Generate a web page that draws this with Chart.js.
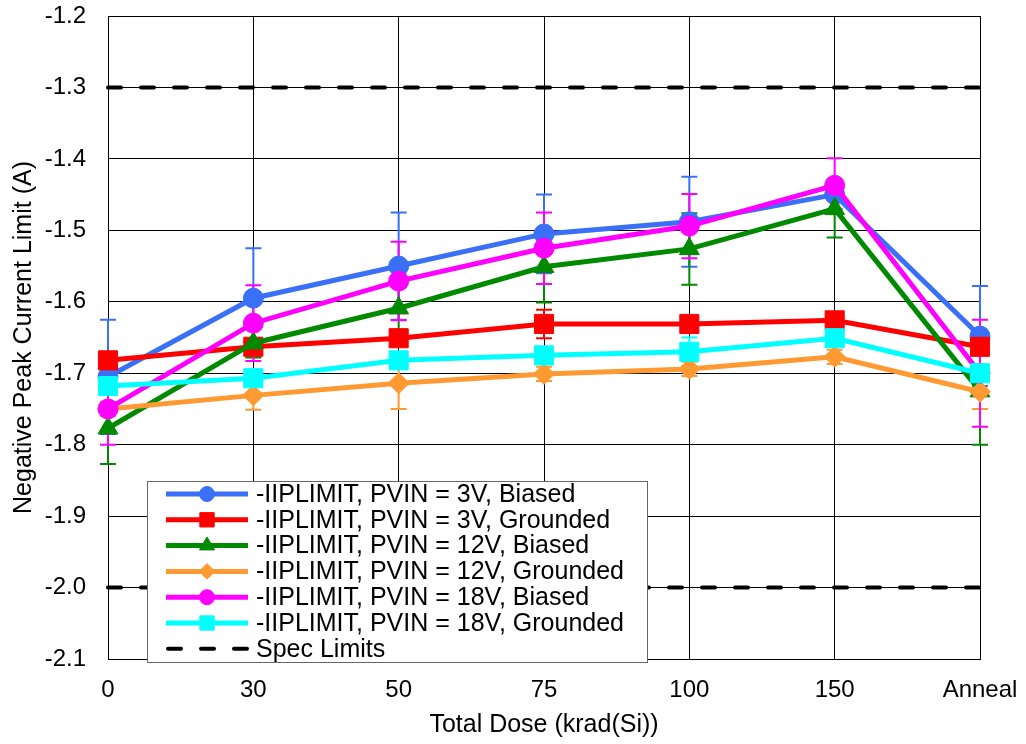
<!DOCTYPE html>
<html>
<head>
<meta charset="utf-8">
<script src="https://cdn.jsdelivr.net/npm/chart.js@4/dist/chart.umd.min.js"></script>
<style>
  html, body { margin: 0; padding: 0; background: #fff; }
  #wrap { width: 1026px; height: 744px; }
</style>
</head>
<body>
<div id="wrap"><canvas id="c" width="1026" height="744"></canvas></div>
<script>
// ---- data ----
const categories = ['0', '30', '50', '75', '100', '150', 'Anneal'];
const yTicks = [-2.1, -2.0, -1.9, -1.8, -1.7, -1.6, -1.5, -1.4, -1.3, -1.2];

const pvin3Biased     = [-1.705, -1.595, -1.550, -1.505, -1.488, -1.450, -1.648];
const pvin3Grounded   = [-1.682, -1.663, -1.651, -1.631, -1.631, -1.626, -1.663];
const pvin12Biased    = [-1.777, -1.658, -1.609, -1.551, -1.526, -1.470, -1.725];
const pvin12Grounded  = [-1.750, -1.731, -1.714, -1.701, -1.694, -1.677, -1.726];
const pvin18Biased    = [-1.750, -1.630, -1.571, -1.525, -1.494, -1.437, -1.700];
const pvin18Grounded  = [-1.718, -1.707, -1.682, -1.675, -1.670, -1.651, -1.700];

const err3Biased      = [0.080, 0.070, 0.075, 0.055, 0.063, 0.020, 0.070];
const err3Grounded    = [0.010, 0.010, 0.010, 0.020, 0.010, 0.010, 0.010];
const err12Biased     = [0.050, 0.020, 0.030, 0.050, 0.050, 0.040, 0.075];
const err12Grounded   = [0.010, 0.020, 0.036, 0.010, 0.010, 0.010, 0.024];
const err18Biased     = [0.050, 0.053, 0.055, 0.050, 0.045, 0.038, 0.075];
const err18Grounded   = [0.010, 0.010, 0.010, 0.010, 0.020, 0.010, 0.010];

const specUpper = [-1.3, -1.3, -1.3, -1.3, -1.3, -1.3, -1.3];
const specLower = [-2.0, -2.0, -2.0, -2.0, -2.0, -2.0, -2.0];

const FONT = "'Liberation Sans', Arial, sans-serif";

function series(label, data, err, color, style, radius, order) {
  return {
    label, data, err,
    borderColor: color, backgroundColor: color,
    pointBackgroundColor: color, pointBorderColor: color,
    borderWidth: 5, pointStyle: style, pointRadius: radius, pointBorderWidth: 1,
    tension: 0, order, inLegend: true
  };
}

const datasets = [
  series('-IIPLIMIT, PVIN = 3V, Biased',     pvin3Biased,    err3Biased,    '#3A6FF7', 'circle',   10,   6),
  series('-IIPLIMIT, PVIN = 3V, Grounded',   pvin3Grounded,  err3Grounded,  '#FF0000', 'rect',     13.5, 5),
  series('-IIPLIMIT, PVIN = 12V, Biased',    pvin12Biased,   err12Biased,   '#008A00', 'triangle', 11.5, 4),
  series('-IIPLIMIT, PVIN = 12V, Grounded',  pvin12Grounded, err12Grounded, '#FF9A33', 'rectRot',  10.5, 3),
  series('-IIPLIMIT, PVIN = 18V, Biased',    pvin18Biased,   err18Biased,   '#FF00FF', 'circle',   10,   2),
  series('-IIPLIMIT, PVIN = 18V, Grounded',  pvin18Grounded, err18Grounded, '#00FFFF', 'rect',     13.5, 1),
  { label: 'Spec Limits', data: specUpper, borderColor: '#000', backgroundColor: '#000',
    borderWidth: 4, borderDash: [13, 20], borderCapStyle: 'round', pointRadius: 0, order: 7, inLegend: true },
  { label: 'Spec Limits (lower)', data: specLower, borderColor: '#000', backgroundColor: '#000',
    borderWidth: 4, borderDash: [13, 20], borderCapStyle: 'round', pointRadius: 0, order: 7, inLegend: false }
];

// error bars drawn through the chart scales
const errorBars = {
  id: 'errorBars',
  beforeDatasetsDraw(chart) {
    const ctx = chart.ctx, x = chart.scales.x, y = chart.scales.y;
    ctx.save();
    chart.data.datasets.forEach((ds) => {
      if (!ds.err) return;
      ctx.strokeStyle = ds.borderColor;
      ctx.lineWidth = 2;
      ds.data.forEach((v, i) => {
        const e = ds.err[i];
        const px = x.getPixelForValue(i);
        const top = y.getPixelForValue(v + e), bot = y.getPixelForValue(v - e);
        ctx.beginPath();
        ctx.moveTo(px, top); ctx.lineTo(px, bot);
        ctx.moveTo(px - 8, top); ctx.lineTo(px + 8, top);
        ctx.moveTo(px - 8, bot); ctx.lineTo(px + 8, bot);
        ctx.stroke();
      });
    });
    ctx.restore();
  }
};

// legend box inside the plot (line + marker samples)
const boxLegend = {
  id: 'boxLegend',
  afterDraw(chart) {
    const ctx = chart.ctx;
    const bx = 147, by = 481, bw = 500, bh = 181;
    ctx.save();
    ctx.fillStyle = '#fff';
    ctx.fillRect(bx, by, bw, bh);
    ctx.strokeStyle = '#666';
    ctx.lineWidth = 1;
    ctx.strokeRect(bx + 0.5, by + 0.5, bw, bh);
    const items = chart.data.datasets.filter(d => d.inLegend);
    items.forEach((ds, i) => {
      const yy = 494 + i * 25.8;
      ctx.save();
      ctx.strokeStyle = ds.borderColor;
      ctx.lineWidth = ds.borderDash ? 4 : 5;
      ctx.lineCap = ds.borderDash ? 'round' : 'butt';
      if (ds.borderDash) ctx.setLineDash(ds.borderDash);
      ctx.beginPath();
      ctx.moveTo(ds.borderDash ? 168 : 166, yy);
      ctx.lineTo(248, yy);
      ctx.stroke();
      ctx.restore();
      if (ds.pointStyle) {
        ctx.save();
        ctx.fillStyle = ds.backgroundColor;
        ctx.strokeStyle = ds.borderColor;
        ctx.lineWidth = 1;
        Chart.helpers.drawPoint(ctx, { pointStyle: ds.pointStyle, radius: ds.pointRadius * 0.75, rotation: 0, borderWidth: 1 }, 207, yy);
        ctx.restore();
      }
      ctx.fillStyle = '#000';
      ctx.font = '25px ' + FONT;
      ctx.textBaseline = 'middle';
      ctx.textAlign = 'left';
      ctx.fillText(ds.label, 256, yy + 1);
    });
    ctx.restore();
  }
};

new Chart(document.getElementById('c'), {
  type: 'line',
  data: { labels: categories, datasets },
  plugins: [errorBars, boxLegend],
  options: {
    responsive: false,
    animation: false,
    devicePixelRatio: 1,
    layout: { padding: { top: 16, right: 46, bottom: 0, left: 0 } },
    plugins: { legend: { display: false }, tooltip: { enabled: false } },
    scales: {
      x: {
        type: 'category',
        offset: false,
        grid: { color: '#000', lineWidth: 1, drawTicks: false },
        border: { color: '#000', width: 1 },
        ticks: { color: '#000', font: { family: FONT, size: 24 }, padding: 17, maxRotation: 0, autoSkip: false },
        title: { display: true, text: 'Total Dose (krad(Si))', color: '#000', font: { family: FONT, size: 25 }, padding: { top: 0, bottom: 4 } },
        afterFit(s) { s.height = 85; s.paddingLeft = 0; s.paddingRight = 0; }
      },
      y: {
        min: -2.1, max: -1.2,
        afterBuildTicks(s) { s.ticks = yTicks.map(v => ({ value: v })); },
        grid: { color: '#000', lineWidth: 1, drawTicks: false },
        border: { color: '#000', width: 1 },
        ticks: { color: '#000', font: { family: FONT, size: 24 }, padding: 22, callback: v => Number(v).toFixed(1) },
        title: { display: true, text: 'Negative Peak Current Limit (A)', color: '#000', font: { family: FONT, size: 25 }, padding: { top: 9, bottom: 0 } },
        afterFit(s) { s.width = 108; s.paddingTop = 0; s.paddingBottom = 0; }
      }
    }
  }
});
</script>
</body>
</html>
